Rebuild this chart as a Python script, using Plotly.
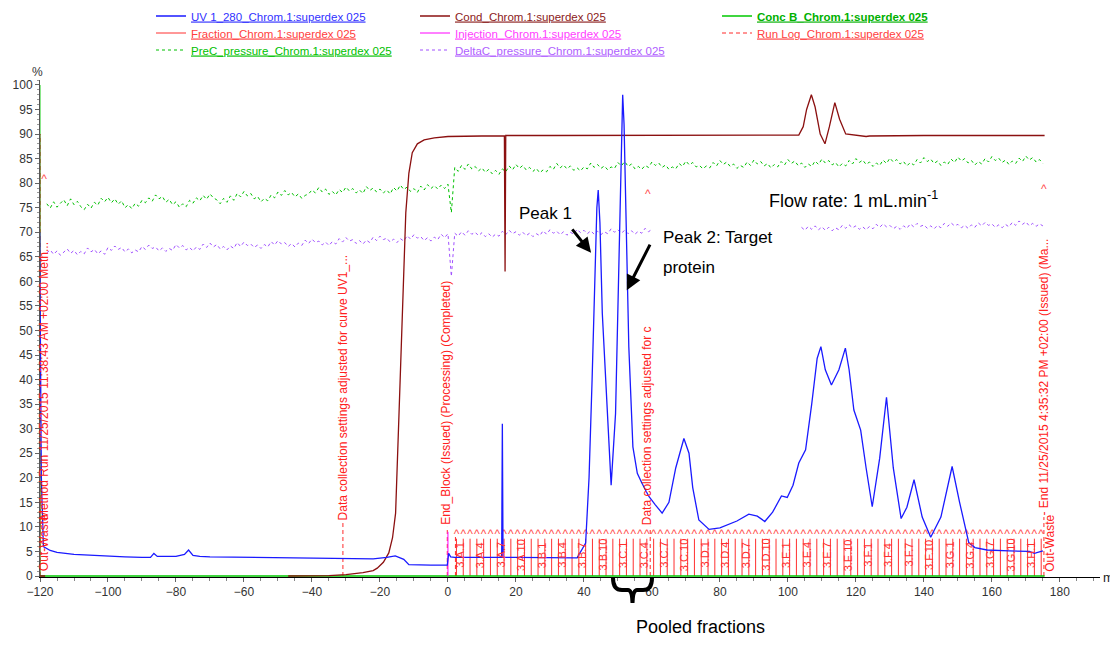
import numpy as np
import plotly.graph_objects as go

FONT = "Arial, Liberation Sans, sans-serif"

# ---------------- data ----------------
# UV 1_280 (mAU, shown on % scale)
uv_ml = [-120.3, -120.1, -119.6, -119.0, -117, -115, -110, -105, -100, -95, -90, -87.5, -86.5, -85.5,
         -84, -80, -77.5, -76.3, -75, -73, -70, -60, -50, -40, -30, -22, -18, -15.5, -13, -11.5, -5,
         -0.2, 0.2, 0.8, 2, 10, 15.8, 16.0, 16.2, 20, 30, 38, 40.5, 41.5, 42.4, 43.2, 43.8, 44.2, 44.7,
         45.4, 46.9, 48.0, 49.3, 50.3, 51.0, 51.4, 51.8, 52.3, 53.2, 54.4, 55.7, 57, 59.1, 61, 63.0, 65,
         67, 69.4, 70.9, 72, 73.8, 76.8, 80, 85, 88.5, 91, 93.2, 95.5, 98.1, 99.8, 101.5, 103.2, 105.2,
         107, 108.6, 109.7, 111, 112.8, 115, 116.9, 118, 119.4, 121.4, 123, 124.8, 127, 129.0, 131,
         133.3, 135, 137.1, 139.5, 142.0, 145, 148.3, 150.5, 153.2, 155, 158.6, 165, 171, 172.5, 173.5, 175]
uv_val = [0, 70, 20, 6.0, 5.2, 4.8, 4.4, 4.2, 4.0, 3.9, 3.8, 3.8, 4.6, 4.0,
          4.0, 4.0, 4.4, 5.3, 4.2, 4.0, 3.9, 3.8, 3.7, 3.6, 3.5, 3.5, 3.8, 4.1, 3.4, 2.3, 2.2,
          2.2, 4.6, 3.9, 3.8, 3.8, 3.8, 31, 3.8, 3.8, 3.7, 3.7, 6.7, 20, 40, 60, 75, 78.6, 72,
          53.5, 33.1, 18.5, 33.1, 67, 90, 98.0, 92, 73.9, 46.7, 26.3, 20.9, 19, 16.2, 14.5, 12.8, 15,
          22, 28.0, 25, 18, 11.4, 9.5, 9.8, 11.2, 12.6, 12.2, 11.1, 13, 16.3, 16.0, 18.5, 23, 25.7,
          35, 44.3, 46.7, 42, 38.9, 42, 46.4, 42, 33.8, 29.7, 22, 14.1, 24, 36.4, 22,
          11.7, 14, 19.6, 12, 7.9, 12, 22.3, 15, 6.8, 5.8, 5.3, 5.1, 5.0, 4.6, 4.8, 5.1]

# Conductivity (%)
cond_ml = [-47, -35, -30, -25, -22, -20.8, -19, -17.4, -16.3, -15.4, -14.4, -13.4, -12.4, -11.5, -10.5,
           -9, -7, -4, 0, 10, 16.6, 16.8, 17.0, 30, 60, 90, 103.2, 104.5, 105.5, 106.9, 108, 109.5,
           110.9, 112.2, 113.8, 115.2, 117, 123, 124, 140, 175.5]
cond_val = [0, 0.1, 0.3, 0.7, 1.1, 1.6, 2.8, 4.7, 7.8, 12.8, 33, 53.5, 74, 82, 86.2,
            88, 88.8, 89.2, 89.5, 89.6, 89.6, 62, 89.7, 89.7, 89.7, 89.7, 89.8, 91.5, 95, 98.0, 95.5, 90,
            88.0, 91.5, 96.4, 93, 90.0, 89.5, 89.6, 89.7, 89.7]
cond_start_ml = [-120.1, -120.1, -118.5]
cond_start_val = [90, 0, 0]

# Conc B (%)
concb_ml = [-120.1, -120.1, 175.5]
concb_val = [100, 0, 0]

# PreC pressure, 1 ml steps from -118 ml
prec_start = -118
prec_val = [
    75.8, 74.9, 76.2, 75.1, 75.9, 76.6, 75.4, 76.8, 75.6, 76.3,
    75.2, 74.6, 75.7, 74.9, 76.1, 75.5, 76.9, 76.2, 77.1, 76.0,
    76.8, 75.7, 76.4, 75.0, 75.6, 74.8, 75.9, 75.3, 76.5, 76.0,
    77.0, 76.3, 77.6, 76.8, 77.3, 76.1, 76.7, 75.6, 76.2, 75.1,
    75.8, 75.2, 76.5, 75.9, 77.0, 76.4, 77.5, 76.7, 77.8, 77.0,
    76.6, 75.8, 76.9, 76.1, 77.4, 76.5, 77.9, 77.2, 78.3, 77.4,
    77.9, 76.8, 77.3, 76.2, 76.9, 76.4, 77.6, 77.0, 78.2, 77.5,
    78.5, 77.6, 78.1, 77.2, 77.8, 76.9, 77.5, 77.8, 78.6, 78.0,
    79.1, 78.2, 78.8, 77.7, 78.3, 77.6, 78.7, 78.1, 79.2, 78.4,
    78.9, 78.0, 78.6, 77.9, 79.3, 78.5, 79.0, 78.2, 78.8, 78.0,
    78.6, 77.8, 79.1, 78.4, 79.6, 78.7, 79.2, 78.3, 78.9, 78.1,
    79.4, 78.6, 79.7, 78.9, 79.5, 78.8, 79.6, 78.9, 79.8,
    74.0,
    83.2, 82.4, 83.6, 82.8, 83.9, 82.9, 83.4, 82.5, 83.1, 82.2,
    82.8, 81.9, 82.6, 81.8, 82.9, 82.3, 83.5, 82.7, 83.8, 83.0,
    83.6, 82.7, 83.2, 82.4, 83.0, 82.1, 82.7, 82.3, 83.4, 82.8,
    84.0, 83.1, 83.7, 82.9, 83.5, 82.6, 83.1, 82.5, 83.3, 82.9,
    84.1, 83.2, 83.8, 83.0, 83.5, 82.7, 83.3, 83.0, 84.2, 83.5,
    84.4, 83.4, 83.9, 82.9, 83.4, 82.8, 83.6, 83.2, 84.3, 83.6,
    84.1, 83.2, 83.7, 82.8, 83.3, 82.9, 84.0, 83.4, 84.5, 83.7,
    84.2, 83.3, 83.6, 82.9, 83.5, 83.1, 84.2, 83.5, 84.6, 83.8,
    84.3, 83.4, 83.9, 83.0, 83.6, 83.2, 84.3, 83.6, 84.7, 83.9,
    84.4, 83.5, 84.0, 83.1, 83.8, 83.3, 84.4, 83.7, 84.8, 84.0,
    84.5, 83.6, 84.1, 83.2, 83.9, 83.4, 84.5, 83.8, 84.9, 84.1,
    84.6, 83.7, 84.2, 83.3, 84.0, 83.5, 84.6, 83.9, 85.0, 84.2,
    84.7, 83.8, 84.3, 83.4, 84.1, 83.6, 84.7, 84.0, 85.1, 84.3,
    84.8, 83.9, 84.4, 83.5, 84.2, 83.7, 84.8, 84.1, 85.2, 84.4,
    84.9, 84.0, 84.5, 83.6, 84.3, 83.8, 84.9, 84.2, 85.3, 84.5,
    85.0, 84.1, 84.6, 83.7, 84.4, 83.9, 85.0, 84.3, 85.4, 84.6,
    85.1, 84.2, 84.7, 83.8, 84.5, 84.0, 85.1, 84.4, 85.5, 84.7,
    85.2, 84.3, 84.8, 84.0,
]

# DeltaC pressure, 1 ml steps: first part from -118 ml, second part from 104 ml
deltac_a_start = -118
deltac_a_val = [
    65.8, 66.4, 65.5, 66.2, 65.3, 66.0, 66.6, 65.7, 66.3, 65.4,
    66.1, 65.6, 66.8, 66.0, 66.5, 65.6, 66.2, 65.5, 66.9, 66.3,
    67.2, 66.5, 66.9, 66.0, 66.6, 65.8, 66.4, 66.0, 67.1, 66.5,
    67.4, 66.7, 67.0, 66.2, 66.8, 66.1, 66.7, 66.3, 67.5, 66.8,
    67.3, 66.4, 66.9, 66.2, 67.0, 66.5, 67.6, 66.9, 67.8, 67.0,
    67.5, 66.6, 67.1, 66.4, 67.2, 66.7, 67.9, 67.1, 68.0, 67.3,
    67.6, 66.9, 67.4, 66.7, 67.5, 67.0, 68.1, 67.4, 68.3, 67.6,
    67.9, 67.1, 67.7, 67.0, 67.8, 67.3, 68.4, 67.7, 68.6, 67.9,
    68.2, 67.4, 68.0, 67.3, 68.1, 67.6, 68.7, 68.0, 68.9, 68.2,
    68.5, 67.7, 68.3, 67.6, 68.4, 67.9, 69.0, 68.3, 69.2, 68.5,
    68.8, 68.0, 68.6, 67.9, 68.7, 68.2, 69.3, 68.6, 69.5, 68.8,
    69.1, 68.3, 68.9, 68.2, 69.0, 68.5, 69.6, 68.9, 69.7, 61.0,
    69.8, 69.2, 70.1, 69.4, 70.3, 69.6, 70.0, 69.3, 69.9, 69.1,
    69.7, 69.0, 69.6, 69.2, 70.2, 69.5, 70.4, 69.7, 70.1, 69.4,
    70.0, 69.3, 69.8, 69.1, 69.7, 69.3, 70.3, 69.6, 70.5, 69.8,
    70.2, 69.5, 70.1, 69.4, 70.0, 69.6, 70.6, 69.9, 70.4, 69.7,
    70.3, 69.6, 70.2, 69.5, 70.1, 69.7, 70.7, 70.0, 70.5, 69.8,
    70.4, 69.7, 70.3, 69.6, 70.2, 69.8, 70.8, 70.1, 70.6,
]
deltac_b_start = 104
deltac_b_val = [
    71.0, 70.4, 71.2, 70.6, 71.3, 70.5, 71.1, 70.4, 71.0, 70.3,
    70.9, 70.5, 71.4, 70.8, 71.5, 70.9, 71.3, 70.6, 71.1, 70.5,
    71.2, 70.7, 71.6, 71.0, 71.7, 71.1, 71.4, 70.7, 71.2, 70.6,
    71.3, 70.8, 71.7, 71.1, 71.8, 71.2, 71.5, 70.8, 71.3, 70.7,
    71.4, 70.9, 71.8, 71.2, 71.9, 71.3, 71.6, 70.9, 71.4, 70.8,
    71.5, 71.0, 71.9, 71.3, 72.0, 71.4, 71.7, 71.0, 71.5, 70.9,
    71.6, 71.1, 72.0, 71.4, 72.3, 71.6, 72.1, 71.3, 71.8, 71.2,
    71.7, 71.3,
]

# Fractions
fraction_bounds = [2.5, 4.5, 6.5, 8.5, 10.5, 12.5, 14.5, 16.5, 18.5, 20.5, 22.5, 24.5, 26.5, 28.5,
                   30.5, 32.5, 34.5, 36.5, 38.5, 40.5, 42.5, 44.5, 46.5, 48.5, 50.5, 52.5, 54.5, 56.5,
                   58.5, 60.5, 62.5, 64.5, 66.5, 68.5, 70.5, 72.5, 74.5, 76.5, 78.5, 80.5, 82.5, 84.5,
                   86.5, 88.5, 90.5, 92.5, 94.5, 96.5, 98.5, 100.5, 102.5, 104.5, 106.5, 108.5, 110.5,
                   112.5, 114.5, 116.5, 118.5, 120.5, 122.5, 124.5, 126.5, 128.5, 130.5, 132.5, 134.5,
                   136.5, 138.5, 140.5, 142.5, 144.5, 146.5, 148.5, 150.5, 152.5, 154.5, 156.5, 158.5,
                   160.5, 162.5, 164.5, 166.5, 168.5, 170.5, 172.5, 174.5]
fraction_mark_height = 7.6
fraction_labels = ["3.A.1", "3.A.4", "3.A.7", "3.A.10", "3.B.1", "3.B.4", "3.B.7", "3.B.10",
                   "3.C.1", "3.C.4", "3.C.7", "3.C.10", "3.D.1", "3.D.4", "3.D.7", "3.D.10",
                   "3.E.1", "3.E.4", "3.E.7", "3.E.10", "3.F.1", "3.F.4", "3.F.7", "3.F.10",
                   "3.G.1", "3.G.4", "3.G.7", "3.G.10", "3.H.1"]
fraction_label_ml = [3.5, 9.5, 15.5, 21.5, 27.5, 33.5, 39.5, 45.5, 51.5, 57.5, 63.5, 69.5, 75.5,
                     81.5, 87.5, 93.5, 99.5, 105.5, 111.5, 117.5, 123.5, 129.5, 135.5, 141.5, 147.5,
                     153.5, 159.5, 165.5, 171.5]

# Injection
injection_ml = [0.0, 0.0]
injection_val = [0, 9]

# Run log events
runlog_ml = [-120.0, -30.9, -0.2, 2.2, 59.5, 175.3]
runlog_top = [90, 11, 10, 8, 10, 12]
runlog_text_ml = [-118.8, -118.8, -30.9, -0.6, 58.8, 175.3, 177.0]
runlog_text_base = [11, 0.5, 11, 10, 10, 12, 0.5]
runlog_texts = ["Method Run 11/25/2015 11:38:43 AM +02:00 Meth...",
                "Out-Waste",
                "Data collection settings adjusted for curve UV1_...",
                "End_Block (Issued) (Processing) (Completed)",
                "Data collection settings adjusted for c",
                "- End 11/25/2015 4:35:32 PM +02:00 (Issued) (Ma...",
                "Out-Waste"]
runlog_caret_ml = [-118.8, 58.8, 175.3]
runlog_caret_val = [80.6, 77.6, 78.6]

x_ticks = [-120, -100, -80, -60, -40, -20, 0, 20, 40, 60, 80, 100, 120, 140, 160, 180]

# ---------------- figure ----------------
# The page body has an 8 px margin on every side, so the figure is drawn
# smaller and all page-pixel targets are shifted by that offset.
OFF = 8
W, H = 1118 - OFF, 646 - 2 * OFF
ML, MR, MT = 40 - OFF, 18, 80 - OFF
MB = H - (577 - OFF)
PW, PH = W - ML - MR, H - MT - MB


def px_x(p):
    return (p - OFF - ML) / PW


def px_y(p):
    return (H - MB - (p - OFF)) / PH


fig = go.Figure()

RED = "#ff2a2a"


def vsegments(xs, y0s, y1s):
    X, Y = [], []
    for x, a, b in zip(xs, y0s, y1s):
        X += [x, x, None]
        Y += [a, b, None]
    return X, Y


# Fraction marks
fx, fy = vsegments(fraction_bounds, [0] * len(fraction_bounds), [fraction_mark_height] * len(fraction_bounds))
fig.add_trace(go.Scatter(x=fx, y=fy, mode="lines", line=dict(color="#ff3030", width=1),
                         name='<span style="color:#ff4040"><u>Fraction_Chrom.1:superdex 025</u></span>',
                         legend="legend4", hoverinfo="skip"))
fig.add_trace(go.Scatter(x=fraction_bounds, y=[fraction_mark_height + 0.7] * len(fraction_bounds),
                         mode="text", text=["^"] * len(fraction_bounds),
                         textfont=dict(color="#ff5050", size=12, family=FONT),
                         showlegend=False, hoverinfo="skip"))

# Run log
rx, ry = vsegments(runlog_ml, [0] * len(runlog_ml), runlog_top)
fig.add_trace(go.Scatter(x=rx, y=ry, mode="lines", line=dict(color=RED, width=1, dash="4px,3px"),
                         name='<span style="color:#ff4040"><u>Run Log_Chrom.1:superdex 025</u></span>',
                         legend="legend6", hoverinfo="skip"))
fig.add_trace(go.Scatter(x=runlog_caret_ml, y=runlog_caret_val, mode="text", text=["^"] * 3,
                         textfont=dict(color="#ff5050", size=12, family=FONT),
                         showlegend=False, hoverinfo="skip"))

# PreC pressure
prec_x = prec_start + np.arange(len(prec_val))
fig.add_trace(go.Scatter(x=prec_x, y=prec_val, mode="lines", line=dict(color="#00c000", width=1, dash="dot"),
                         name='<span style="color:#00c000"><u>PreC_pressure_Chrom.1:superdex 025</u></span>',
                         legend="legend7", hoverinfo="skip"))

# DeltaC pressure
dx = list(deltac_a_start + np.arange(len(deltac_a_val))) + [None] + list(deltac_b_start + np.arange(len(deltac_b_val)))
dy = list(deltac_a_val) + [None] + list(deltac_b_val)
fig.add_trace(go.Scatter(x=dx, y=dy, mode="lines", line=dict(color="#a050ff", width=1, dash="dot"),
                         name='<span style="color:#b060ff"><u>DeltaC_pressure_Chrom.1:superdex 025</u></span>',
                         legend="legend8", hoverinfo="skip", connectgaps=False))

# Conc B
fig.add_trace(go.Scatter(x=concb_ml, y=concb_val, mode="lines", line=dict(color="#00c800", width=1.6),
                         name='<span style="color:#00b000"><b><u>Conc B_Chrom.1:superdex 025</u></b></span>',
                         legend="legend3", hoverinfo="skip"))

# Cond
fig.add_trace(go.Scatter(x=cond_start_ml + [None] + cond_ml, y=cond_start_val + [None] + cond_val,
                         mode="lines", line=dict(color="#8b1010", width=1.3),
                         name='<span style="color:#8b2020"><u>Cond_Chrom.1:superdex 025</u></span>',
                         legend="legend2", hoverinfo="skip"))

# Injection
fig.add_trace(go.Scatter(x=injection_ml, y=injection_val, mode="lines", line=dict(color="#ff00ff", width=1),
                         name='<span style="color:#ff40ff"><u>Injection_Chrom.1:superdex 025</u></span>',
                         legend="legend5", hoverinfo="skip"))

# UV
fig.add_trace(go.Scatter(x=uv_ml, y=uv_val, mode="lines", line=dict(color="#1a1aff", width=1.3),
                         name='<span style="color:#3030ff"><u>UV 1_280_Chrom.1:superdex 025</u></span>',
                         legend="legend", hoverinfo="skip"))

annotations = []
# Fraction labels
for lab, xm in zip(fraction_labels, fraction_label_ml):
    annotations.append(dict(x=xm, y=4.3, text=lab, textangle=-90, showarrow=False,
                            xanchor="center", yanchor="middle",
                            font=dict(color="#ff3030", size=11, family=FONT)))
# Run log texts
for t, xm, yb in zip(runlog_texts, runlog_text_ml, runlog_text_base):
    annotations.append(dict(x=xm, y=yb, text=t, textangle=-90, showarrow=False,
                            xanchor="center", yanchor="bottom",
                            font=dict(color="#ff2020", size=12, family=FONT)))

# Peak annotations
annotations += [
    dict(x=42.1, y=65.8, ax=-20, ay=-25, text="", showarrow=True, arrowhead=2, arrowsize=1,
         arrowwidth=3, arrowcolor="black"),
    dict(x=52.6, y=58.2, ax=24, ay=-47, text="", showarrow=True, arrowhead=2, arrowsize=1,
         arrowwidth=3, arrowcolor="black"),
    dict(x=20.3, y=73.9, text="Peak 1", showarrow=False, xanchor="left", yanchor="middle",
         font=dict(size=17, color="black", family=FONT)),
    dict(x=62.6, y=69.0, text="Peak 2: Target", showarrow=False, xanchor="left", yanchor="middle",
         font=dict(size=17, color="black", family=FONT)),
    dict(x=62.6, y=62.9, text="protein", showarrow=False, xanchor="left", yanchor="middle",
         font=dict(size=17, color="black", family=FONT)),
    dict(x=93.8, y=76.6, text="Flow rate: 1 mL.min<sup>-1</sup>", showarrow=False, xanchor="left",
         yanchor="middle", font=dict(size=18, color="black", family=FONT)),
    dict(xref="paper", yref="paper", x=px_x(700), y=px_y(638), text="Pooled fractions", showarrow=False,
         xanchor="center", yanchor="bottom", borderpad=0, font=dict(size=18, color="black", family=FONT)),
    dict(xref="paper", yref="paper", x=px_x(37), y=px_y(72), text="%", showarrow=False,
         xanchor="center", yanchor="middle", font=dict(size=12, color="#333", family=FONT)),
    dict(xref="paper", yref="paper", x=px_x(1101), y=px_y(577), text="ml", showarrow=False,
         xanchor="left", yanchor="middle", font=dict(size=13, color="#222", family=FONT)),
]

# brace under pooled fractions (pixel design converted to paper coords)
brace_pts = [(613, 578), (613, 590), (622, 590), (628, 590), (632, 590), (632.5, 603),
             (633, 590), (637, 590), (643, 590), (652, 590), (652, 578)]
bp = [(px_x(a), px_y(b)) for a, b in brace_pts]
path = ("M {0[0]},{0[1]} Q {1[0]},{1[1]} {2[0]},{2[1]} L {3[0]},{3[1]} Q {4[0]},{4[1]} {5[0]},{5[1]} "
        "Q {6[0]},{6[1]} {7[0]},{7[1]} L {8[0]},{8[1]} Q {9[0]},{9[1]} {10[0]},{10[1]}").format(*bp)
shapes = [dict(type="path", xref="paper", yref="paper", path=path, line=dict(color="black", width=4))]

# legends
legend_rows = [16, 33, 50]
legend_cols = [191, 455, 757]
legend_pos = {
    "legend": (0, 0), "legend2": (1, 0), "legend3": (2, 0),
    "legend4": (0, 1), "legend5": (1, 1), "legend6": (2, 1),
    "legend7": (0, 2), "legend8": (1, 2),
}
legend_layout = {}
for key, (c, r) in legend_pos.items():
    legend_layout[key] = dict(x=px_x(legend_cols[c] - 40), y=px_y(legend_rows[r]), xanchor="left",
                              yanchor="middle", bgcolor="rgba(0,0,0,0)", borderwidth=0,
                              font=dict(size=11.5, family=FONT), itemwidth=30)

fig.update_layout(
    width=W, height=H, margin=dict(l=ML, r=MR, t=MT, b=MB, autoexpand=False),
    plot_bgcolor="white", paper_bgcolor="white",
    font=dict(family=FONT, size=12, color="#333"),
    annotations=annotations, shapes=shapes,
    **legend_layout,
)
fig.update_xaxes(range=[-120, 191.8], tickvals=x_ticks, showgrid=False, zeroline=False,
                 showline=True, linecolor="black", linewidth=1, ticks="outside", ticklen=4,
                 tickcolor="#666", tickfont=dict(size=12, color="#333", family=FONT),
                 minor=dict(dtick=5, ticks="outside", ticklen=3, tickcolor="#888"),
                 layer="below traces")
fig.update_yaxes(range=[-0.2, 101], dtick=5, tick0=0, showgrid=False, zeroline=False,
                 showline=True, linecolor="#555", linewidth=1, ticks="outside", ticklen=4,
                 tickcolor="#666", tickfont=dict(size=12, color="#333", family=FONT),
                 minor=dict(dtick=1, ticks="outside", ticklen=2, tickcolor="#999"),
                 layer="below traces")

fig.write_html("out.html")
